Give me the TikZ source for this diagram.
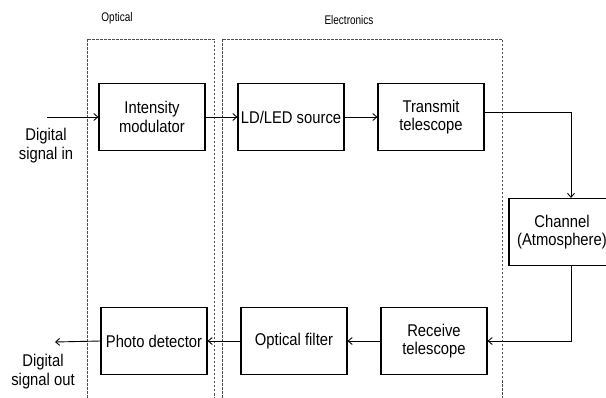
\documentclass[tikz,border=0pt]{standalone}
\usepackage{fontspec}
\setmainfont[FakeStretch=0.87]{Liberation Sans}
\newfontfamily\zonefont[FakeStretch=0.8]{Liberation Sans}
\usetikzlibrary{arrows.meta,positioning}
\begin{document}
\begin{tikzpicture}[x=1pt,y=-1pt,
  blk/.style={draw=black,line width=1.1pt,minimum width=106pt,minimum height=67pt,inner sep=0pt,align=center,font=\fontsize{17}{18.5}\selectfont},
  zone/.style={draw=black!70,dashed,line width=0.5pt,dash pattern=on 2.5pt off 1.5pt},
  arr/.style={-{Straight Barb[length=4pt,width=7pt]},line width=0.9pt},
  lbl/.style={font=\fontsize{17}{19}\selectfont,align=center},
  zlbl/.style={font=\zonefont\fontsize{12.5}{14}\selectfont}]
\useasboundingbox (0,0) rectangle (606,398);
\clip (0,0) rectangle (606,398);
\draw[zone] (87,410) -- (87,39) -- (214,39) -- (214,410);
\draw[zone] (222,410) -- (222,39) -- (502,39) -- (502,410);
\node[zlbl] (optl) at (117,18) {Optical};
\node[zlbl] (elel) at (349,20) {Electronics};
\node[blk] (im) at (152,117) {Intensity\\modulator};
\node[blk] (ld) at (291,117) {LD/LED source};
\node[blk] (tt) at (431,117) {Transmit\\telescope};
\node[blk] (ch) at (562,232) {Channel\\(Atmosphere)};
\node[blk] (rt) at (434,341) {Receive\\telescope};
\node[blk] (of) at (294,341) {Optical filter};
\node[blk] (pd) at (154,341) {Photo detector};
\node[lbl] (din) at (46,146) {Digital\\signal in};
\node[lbl] (dout) at (43,372) {Digital\\signal out};
\coordinate (inS) at (47,117);
\coordinate (outE) at (55,342);
\draw[arr] (inS) -- (im.west);
\draw[arr] (im.east) -- (ld.west);
\draw[arr] (ld.east) -- (tt.west);
\draw[arr] (tt.east |- 0,112) -| (571,0 |- ch.north);
\draw[arr] (571,0 |- ch.south) |- (rt.east);
\draw[arr] (rt.west) -- (of.east);
\draw[arr] (of.west) -- (pd.east);
\draw[arr] (pd.west) -- (outE);
\end{tikzpicture}
\end{document}
